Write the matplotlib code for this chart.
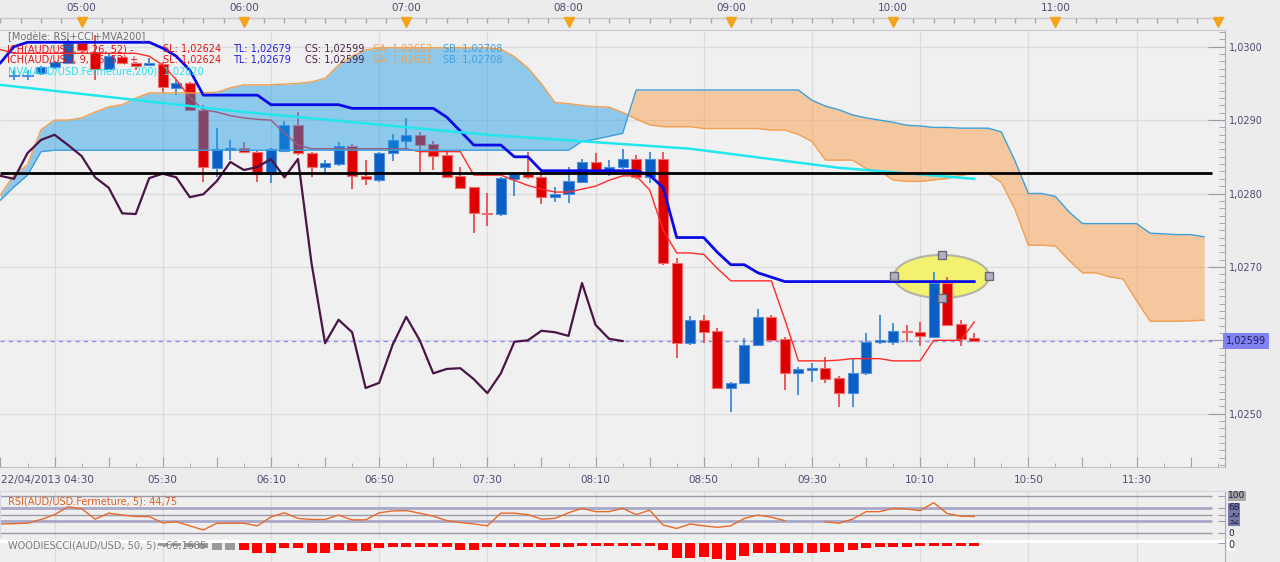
import numpy as np
import matplotlib
matplotlib.use("Agg")
import matplotlib.pyplot as plt
from matplotlib.patches import Ellipse

plt.rcParams['font.family'] = ['DejaVu Sans']

# ---------------------------------------------------------------- data
bar_minutes = 5            # AUD/USD 5-minute candles, index 0 = 04:30

opens = [1.02960, 1.02960, 1.02964, 1.02972, 1.02978, 1.03005, 1.02993, 1.02970, 1.02986, 1.02978,
         1.02975, 1.02976, 1.02944, 1.02951, 1.02914, 1.02835, 1.02859, 1.02862, 1.02857, 1.02827,
         1.02858, 1.02893, 1.02855, 1.02836, 1.02840, 1.02865, 1.02824, 1.02818, 1.02855, 1.02872,
         1.02880, 1.02867, 1.02852, 1.02824, 1.02809, 1.02774, 1.02772, 1.02820, 1.02827, 1.02822,
         1.02795, 1.02799, 1.02816, 1.02843, 1.02832, 1.02836, 1.02847, 1.02822, 1.02847, 1.02705,
         1.02596, 1.02628, 1.02613, 1.02535, 1.02542, 1.02594, 1.02632, 1.02602, 1.02555, 1.02560,
         1.02562, 1.02549, 1.02528, 1.02555, 1.02598, 1.02598, 1.02613, 1.02611, 1.02605, 1.02678,
         1.02622, 1.02603]
highs = [1.02968, 1.02968, 1.02974, 1.02981, 1.03010, 1.03008, 1.03016, 1.02990, 1.02988, 1.02979,
         1.02985, 1.02979, 1.02955, 1.02952, 1.02921, 1.02889, 1.02873, 1.02870, 1.02858, 1.02862,
         1.02899, 1.02911, 1.02857, 1.02846, 1.02870, 1.02867, 1.02846, 1.02857, 1.02881, 1.02903,
         1.02884, 1.02872, 1.02857, 1.02836, 1.02809, 1.02801, 1.02822, 1.02829, 1.02857, 1.02834,
         1.02809, 1.02836, 1.02847, 1.02855, 1.02846, 1.02861, 1.02852, 1.02857, 1.02856, 1.02712,
         1.02633, 1.02634, 1.02617, 1.02543, 1.02603, 1.02643, 1.02634, 1.02604, 1.02563, 1.02569,
         1.02577, 1.02551, 1.02575, 1.02610, 1.02634, 1.02624, 1.02621, 1.02625, 1.02693, 1.02686,
         1.02628, 1.02610]
lows = [1.02955, 1.02955, 1.02962, 1.02970, 1.02976, 1.02993, 1.02955, 1.02968, 1.02976, 1.02968,
        1.02974, 1.02937, 1.02934, 1.02912, 1.02816, 1.02822, 1.02846, 1.02855, 1.02816, 1.02814,
        1.02857, 1.02852, 1.02822, 1.02829, 1.02838, 1.02806, 1.02812, 1.02816, 1.02844, 1.02859,
        1.02829, 1.02832, 1.02822, 1.02806, 1.02746, 1.02756, 1.02770, 1.02797, 1.02820, 1.02786,
        1.02788, 1.02787, 1.02814, 1.02830, 1.02824, 1.02834, 1.02820, 1.02814, 1.02703, 1.02576,
        1.02594, 1.02596, 1.02533, 1.02502, 1.02540, 1.02592, 1.02598, 1.02532, 1.02525, 1.02543,
        1.02542, 1.02509, 1.02509, 1.02553, 1.02595, 1.02594, 1.02598, 1.02592, 1.02603, 1.02620,
        1.02592, 1.02599]
closes = [1.02962, 1.02962, 1.02972, 1.02979, 1.03005, 1.02996, 1.02970, 1.02987, 1.02978, 1.02974,
          1.02978, 1.02945, 1.02951, 1.02914, 1.02836, 1.02861, 1.02862, 1.02857, 1.02827, 1.02861,
          1.02893, 1.02855, 1.02836, 1.02842, 1.02865, 1.02824, 1.02820, 1.02855, 1.02873, 1.02880,
          1.02866, 1.02851, 1.02822, 1.02808, 1.02773, 1.02772, 1.02821, 1.02827, 1.02822, 1.02795,
          1.02799, 1.02817, 1.02843, 1.02832, 1.02836, 1.02847, 1.02822, 1.02847, 1.02705, 1.02596,
          1.02628, 1.02611, 1.02535, 1.02542, 1.02594, 1.02632, 1.02600, 1.02555, 1.02561, 1.02562,
          1.02547, 1.02528, 1.02555, 1.02598, 1.02600, 1.02613, 1.02611, 1.02606, 1.02678, 1.02621,
          1.02602, 1.02599]

# Ichimoku lines, one value per bar index 0..72
tenkan = [1.02996, 1.02991, 1.02991, 1.02991, 1.02991, 1.02991, 1.02991, 1.02991, 1.02991, 1.02991,
          1.02991, 1.02987, 1.02975, 1.02955, 1.02931, 1.02914, 1.02911, 1.02906, 1.02903, 1.02901,
          1.02900, 1.02882, 1.02866, 1.02861, 1.02861, 1.02861, 1.02861, 1.02861, 1.02861, 1.02861,
          1.02861, 1.02857, 1.02857, 1.02857, 1.02857, 1.02825, 1.02825, 1.02825, 1.02818, 1.02811,
          1.02806, 1.02802, 1.02802, 1.02806, 1.02810, 1.02818, 1.02824, 1.02824, 1.02805, 1.02750,
          1.02719, 1.02719, 1.02717, 1.02698, 1.02681, 1.02681, 1.02681, 1.02681, 1.02628, 1.02572,
          1.02572, 1.02572, 1.02573, 1.02575, 1.02575, 1.02575, 1.02572, 1.02572, 1.02572, 1.02600,
          1.02600, 1.02600, 1.02625]
kijun = [1.02978, 1.03000, 1.03006, 1.03006, 1.03006, 1.03006, 1.03006, 1.03006, 1.03006, 1.03006,
         1.03006, 1.03006, 1.02998, 1.02987, 1.02968, 1.02934, 1.02934, 1.02934, 1.02934, 1.02934,
         1.02921, 1.02921, 1.02921, 1.02921, 1.02921, 1.02921, 1.02916, 1.02916, 1.02916, 1.02916,
         1.02916, 1.02916, 1.02916, 1.02904, 1.02885, 1.02866, 1.02866, 1.02866, 1.02850, 1.02850,
         1.02831, 1.02831, 1.02831, 1.02831, 1.02831, 1.02831, 1.02831, 1.02831, 1.02825, 1.02808,
         1.02740, 1.02740, 1.02740, 1.02720, 1.02703, 1.02703, 1.02692, 1.02686, 1.02680, 1.02680,
         1.02680, 1.02680, 1.02680, 1.02680, 1.02680, 1.02680, 1.02680, 1.02680, 1.02680, 1.02680,
         1.02680, 1.02680, 1.02680]
# Senkou A for bar index 0..25 (later values follow from tenkan/kijun shifted by 26)
senkou_a_early = [1.02798, 1.02825, 1.02839, 1.02887, 1.02900, 1.02900, 1.02903, 1.02911, 1.02918, 1.02921,
                  1.02930, 1.02937, 1.02937, 1.02937, 1.02937, 1.02937, 1.02938, 1.02944, 1.02948, 1.02948,
                  1.02948, 1.02949, 1.02950, 1.02952, 1.02957, 1.02975]
ichimoku_shift = 26
# Senkou B, bar index 0..89
senkou_b = [1.02791, 1.02809, 1.02825, 1.02857, 1.02859, 1.02859, 1.02859, 1.02859, 1.02859, 1.02859,
            1.02859, 1.02859, 1.02859, 1.02859, 1.02859, 1.02859, 1.02859, 1.02859, 1.02859, 1.02859,
            1.02859, 1.02859, 1.02859, 1.02859, 1.02859, 1.02859, 1.02859, 1.02859, 1.02859, 1.02859,
            1.02859, 1.02859, 1.02859, 1.02859, 1.02859, 1.02859, 1.02859, 1.02859, 1.02859, 1.02859,
            1.02859, 1.02859, 1.02859, 1.02871, 1.02874, 1.02878, 1.02882, 1.02941, 1.02941, 1.02941,
            1.02941, 1.02941, 1.02941, 1.02941, 1.02941, 1.02941, 1.02941, 1.02941, 1.02941, 1.02941,
            1.02927, 1.02919, 1.02914, 1.02907, 1.02903, 1.02900, 1.02897, 1.02893, 1.02892, 1.02890,
            1.02890, 1.02889, 1.02889, 1.02889, 1.02884, 1.02845, 1.02800, 1.02800, 1.02796, 1.02775,
            1.02759, 1.02759, 1.02759, 1.02759, 1.02759, 1.02746, 1.02745, 1.02744, 1.02744, 1.02741]

mva_bars = [0, 18, 36, 51, 62, 72]
mva_values = [1.02948, 1.02911, 1.02880, 1.02861, 1.02835, 1.02820]

horizontal_level = 1.02828
last_price = 1.02599

rsi = [25, 26, 27, 37, 50, 71, 66, 38, 54, 49, 45, 45, 28, 31, 20, 9, 27, 27, 27, 20,
       44, 55, 40, 37, 37, 49, 36, 36, 55, 60, 61, 54, 46, 34, 29, 25, 20, 54, 54, 50,
       38, 40, 55, 67, 58, 58, 67, 50, 62, 22, 13, 25, 20, 16, 20, 40, 49, 43, 34, np.nan,
       np.nan, 31, 27, 38, 58, 58, 67, 65, 61, 82, 53, 46, 45]
rsi_levels = [0, 32, 50, 68, 100]

woodies_cci = [60, 60, 60, 60, 60, 60, 60, 60, 60, 60, 60, 60,
               -60, -80, -100, -120, -170, -170,
               -165, -250, -235, -110, -110, -250, -235, -165, -180, -180, -125, -85, -85, -100,
               -85, -100, -165, -165, -100, -85, -85, -85, -100, -85, -85,
               -67, -67, -67, -67, -67, -67,
               -165, -375, -375, -335, -400, -415, -320, -235, -235, -250, -250, -235, -210, -210,
               -165, -125, -100, -100, -100, -67, -66, -66, -66, -66]

hour_labels = ["05:00", "06:00", "07:00", "08:00", "09:00", "10:00", "11:00"]
hour_minutes = [30, 90, 150, 210, 270, 330, 390]
bottom_labels = ["22/04/2013 04:30", "05:30", "06:10", "06:50", "07:30", "08:10",
                 "08:50", "09:30", "10:10", "10:50", "11:30"]
bottom_minutes = [0, 60, 100, 140, 180, 220, 260, 300, 340, 380, 420]
grid_minutes = [20, 60, 100, 140, 180, 220, 260, 300, 340, 380, 420]
price_ticks = [1.0250, 1.0260, 1.0270, 1.0280, 1.0290, 1.0300]
price_labels = ["1,0250", "", "1,0270", "1,0280", "1,0290", "1,0300"]

# ---------------------------------------------------------------- layout helpers
W, H = 1280, 562
fig = plt.figure(figsize=(W / 100, H / 100), dpi=100)
BG = '#ececec'
fig.patch.set_facecolor(BG)


def rect(x0, y0, x1, y1):
    return [x0 / W, 1 - y1 / H, (x1 - x0) / W, (y1 - y0) / H]


PPM = 2.705   # pixels per minute
X0 = 0.45


def tpx(px):
    return (px - X0) / PPM


def ppx(py):
    return 1.0300 - (py - 46.7) / 73400.0


XL = (tpx(0), tpx(1225))
XR = tpx(1212)
TXT = '#4c4c74'

t_bar = (np.arange(len(opens)) + 1) * bar_minutes
t_line = np.arange(len(tenkan)) * bar_minutes
t_cloud = np.arange(len(senkou_b)) * bar_minutes

o = np.array(opens); h = np.array(highs); l = np.array(lows); c = np.array(closes)
tk = np.array(tenkan); kj = np.array(kijun)
n_late = len(senkou_b) - len(senkou_a_early)
senkou_a = np.concatenate([senkou_a_early, (tk[:n_late] + kj[:n_late]) / 2])
senkou_b = np.array(senkou_b)

# ---------------------------------------------------------------- main chart
ax = fig.add_axes(rect(0, 30, 1225, 467))
ax.set_facecolor('#f0f0f0')
ax.set_xlim(*XL)
ax.set_ylim(ppx(467), ppx(30))

ax.hlines(price_ticks, XL[0], XL[1], color='#dcdcdc', lw=1, zorder=0)
ax.vlines(grid_minutes, ppx(467), ppx(30), color='#dcdcdc', lw=1, zorder=0)

# ellipse annotation
e_t, e_p, e_w, e_h = 347.9, 1.02687, 35.1, 0.000586
ax.add_patch(Ellipse((e_t, e_p), e_w, e_h, facecolor='#f2f270', edgecolor='#b4b4a4',
                     lw=1.5, zorder=1.5))

ax.hlines(last_price, XL[0], XR, color='#8c8cf0', lw=1, linestyles=(0, (3, 3)), zorder=1.8)

up = c >= o
bw = 3.7
ax.vlines(t_bar[up], l[up], h[up], color='#3f8ad8', lw=1.3, zorder=2)
ax.vlines(t_bar[~up], l[~up], h[~up], color='#e45050', lw=1.3, zorder=2)
ax.bar(t_bar[up], (c - o)[up], bottom=o[up], width=bw, color='#0a5ec4',
       edgecolor='#4f90dc', lw=0.8, zorder=2.2)
ax.bar(t_bar[~up], (c - o)[~up], bottom=o[~up], width=bw, color='#de0000',
       edgecolor='#f07070', lw=0.8, zorder=2.2)

ax.plot(t_line, tk, color='#ff2a2a', lw=1, zorder=2.5)

# cloud
ax.fill_between(t_cloud, senkou_a, senkou_b, where=senkou_a >= senkou_b, interpolate=True,
                color=(24 / 255, 153 / 255, 231 / 255), alpha=0.45, lw=0, zorder=3)
ax.fill_between(t_cloud, senkou_a, senkou_b, where=senkou_a < senkou_b, interpolate=True,
                color=(253 / 255, 151 / 255, 62 / 255), alpha=0.45, lw=0, zorder=3)
ax.plot(t_cloud, senkou_a, color='#f0a050', lw=1, zorder=3.2)
ax.plot(t_cloud, senkou_b, color='#3d9fdc', lw=1, zorder=3.2)

ax.plot(t_line, kj, color='#0a0ae6', lw=2, zorder=4)
ax.plot(np.array(mva_bars) * bar_minutes, mva_values, color='#22e6ee', lw=1.8, zorder=4)
t_chikou = t_bar[ichimoku_shift - 1:] - ichimoku_shift * bar_minutes
ax.plot(t_chikou, c[ichimoku_shift - 1:], color='#4a1446', lw=1.6, zorder=4)
ax.hlines(horizontal_level, XL[0], XR, color='black', lw=2, zorder=4.5)

# ellipse handles
ax.plot([e_t - e_w / 2, e_t + e_w / 2, e_t, e_t], [e_p, e_p, e_p + e_h / 2, e_p - e_h / 2],
        linestyle='none', marker='s', ms=6, mfc='#b0b0c0', mec='#6a6a7a', mew=1, zorder=6)

# axes decoration
ax.yaxis.tick_right()
ax.set_yticks(price_ticks)
ax.set_yticklabels(price_labels)
ax.set_yticks(np.round(np.arange(1.0243, 1.03025, 0.0001), 4), minor=True)
ax.tick_params(axis='y', which='major', direction='in', length=12, color='#9a9aaa',
               labelsize=7, labelcolor=TXT, pad=3)
ax.tick_params(axis='y', which='minor', direction='in', length=4, color='#9a9aaa')
ax.set_xticks(np.arange(0, 460, 20))
ax.set_xticks(np.arange(0, 460, 10), minor=True)
ax.tick_params(axis='x', which='major', direction='in', length=7, color='#a0a0b0',
               labelbottom=False)
ax.tick_params(axis='x', which='minor', direction='in', length=3, color='#a0a0b0')
ax.spines['left'].set_visible(False)
ax.spines['right'].set_color('#a8a8b8')
ax.spines['top'].set_color('#c8c8d0')
ax.spines['bottom'].set_color('#c0c0c8')

yb = (467 - 480) / 437
for t, s in zip(bottom_minutes, bottom_labels):
    if t == 0:
        ax.text(tpx(1), yb, s, transform=ax.get_xaxis_transform(), ha='left', va='center',
                fontsize=7.5, color=TXT)
    else:
        ax.text(t, yb, s, transform=ax.get_xaxis_transform(), ha='center', va='center',
                fontsize=7.5, color=TXT)

fig.text(1226 / W, 1 - 341 / H, "1,02599", fontsize=7, color='#1c1c50', va='center', ha='left',
         bbox=dict(boxstyle='square,pad=0.3', fc='#8282f5', ec='none'))

# legend texts
def ftext(x, y, s, col):
    fig.text(x / W, 1 - y / H, s, fontsize=7, color=col, va='center', ha='left')


ftext(8, 37, "[Modèle: RSI+CCI+MVA200]", '#707070')
for y, sign in ((49, "-"), (60, "+")):
    ftext(7, y, "ICH(AUD/USD, 9, 26, 52) " + sign, '#e81010')
    ftext(163, y, "SL: 1,02624", '#e81010')
    ftext(233, y, "TL: 1,02679", '#2020e0')
    ftext(305, y, "CS: 1,02599", '#502048')
    ftext(373, y, "SA: 1,02652", '#f0a050')
    ftext(443, y, "SB: 1,02708", '#40a0e0')
ftext(8, 72, "MVA(AUD/USD.Fermeture,200): 1,02820", '#20e4f0')

# ---------------------------------------------------------------- top time strip
axt = fig.add_axes(rect(0, 0, 1225, 30))
axt.set_xlim(*XL)
axt.set_ylim(30, 0)
axt.axis('off')
axt.hlines(17.5, XL[0], XL[1], color='#c8c8d0', lw=1)
axt.vlines(np.arange(0, 455, 7.5), 18, 23, color='#a8a8b0', lw=1)
axt.plot(hour_minutes + [450], [21.5] * (len(hour_minutes) + 1), linestyle='none',
         marker='v', ms=7, color='#f5a31a')
for t, s in zip(hour_minutes, hour_labels):
    axt.text(t, 8, s, ha='center', va='center', fontsize=7.5, color=TXT)

# ---------------------------------------------------------------- RSI panel
axr = fig.add_axes(rect(0, 491, 1225, 538))
axr.set_xlim(*XL)
axr.set_ylim(-12.6, 113.4)
axr.set_facecolor('#efefef')
axr.vlines(grid_minutes, -12.6, 113.4, color='#dcdcdc', lw=1, zorder=0)
axr.hlines([0, 50, 100], XL[0], XR, color='#9a9aa8', lw=1, zorder=1)
axr.hlines([32, 68], XL[0], XR, color='#a8a8c8', lw=2, zorder=1)
axr.plot(t_line, rsi, color='#e8692a', lw=1, zorder=2)
axr.yaxis.tick_right()
axr.set_yticks(rsi_levels)
axr.tick_params(axis='y', direction='in', length=5, color='#9a9aaa', labelright=False)
axr.set_xticks([])
for sp in axr.spines.values():
    sp.set_color('#d6d6e4')
axr.spines['right'].set_color('#a8a8b8')
fig.text(8 / W, 1 - 502 / H, "RSI(AUD/USD.Fermeture, 5): 44,75", fontsize=7, color='#e06020',
         va='center', ha='left')
for lv, fc in ((0, None), (32, '#7878a8'), (50, '#7878a8'), (68, '#7878a8'), (100, '#a8a8a8')):
    yy = 533.3 - lv * 0.373
    kw = dict(boxstyle='square,pad=0.05', fc=fc, ec='none') if fc else None
    fig.text(1228 / W, 1 - yy / H, str(lv), fontsize=6.5, color='#1c1c40', va='center',
             ha='left', bbox=kw)

# ---------------------------------------------------------------- Woodies CCI panel
axc = fig.add_axes(rect(0, 538, 1225, 562))
axc.set_xlim(*XL)
axc.set_ylim(-467, 132)
axc.set_facecolor('#efefef')
cci = np.array(woodies_cci, dtype=float)
cols = []
run = 0
for v in cci:
    if v > 0:
        run = 0
        cols.append('#2ed62e')
    else:
        run += 1
        cols.append('#ff0000' if run > 6 else '#9a9a9a')
axc.vlines(grid_minutes, -467, 132, color='#dcdcdc', lw=1, zorder=0)
axc.bar(t_line, cci, width=3.7, color=cols, zorder=2)
axc.axhline(62, color='white', lw=2.2, zorder=3)
axc.yaxis.tick_right()
axc.set_yticks([0])
axc.tick_params(axis='y', direction='in', length=5, color='#9a9aaa', labelright=False)
axc.set_xticks([])
for sp in ('left', 'top', 'bottom'):
    axc.spines[sp].set_visible(False)
axc.spines['right'].set_color('#a8a8b8')
fig.text(8 / W, 1 - 546 / H, "WOODIESCCI(AUD/USD, 50, 5): -66,1685", fontsize=7,
         color='#7a7a7a', va='center', ha='left', zorder=5)
fig.text(1228 / W, 1 - 545 / H, "0", fontsize=7, color='#1c1c40', va='center', ha='left',
         bbox=dict(boxstyle='square,pad=0.1', fc='white', ec='none'))

fig.savefig("out.png", dpi=100, facecolor=fig.get_facecolor())
